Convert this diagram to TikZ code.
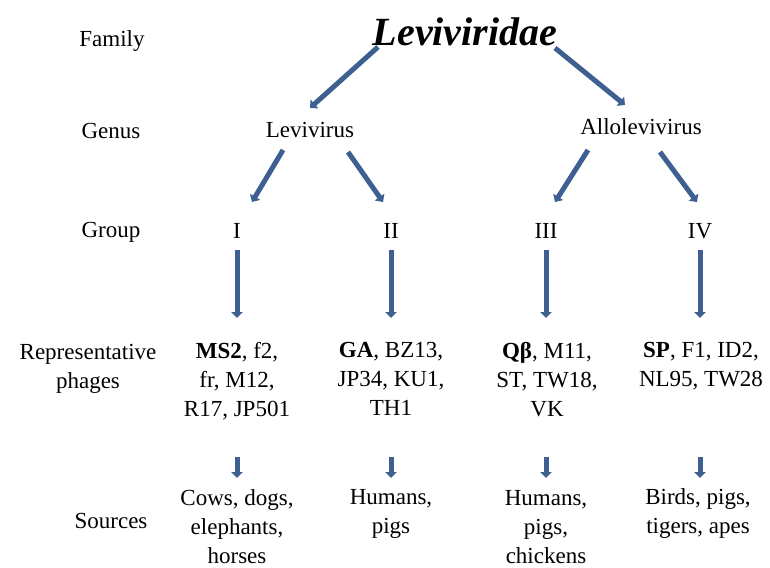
\documentclass[tikz,border=0pt]{standalone}
\usepackage{fontspec}
\setmainfont{Liberation Serif}
\usetikzlibrary{arrows.meta, positioning}
\definecolor{phageblue}{RGB}{61,96,145}

\begin{document}
\begin{tikzpicture}[
    x=1pt, y=-1pt,
    txt/.style={inner sep=0pt, align=center, font=\fontsize{23}{29}\selectfont},
    col/.style={txt, anchor=north},
    taxon/.style={inner sep=0pt, font=\fontsize{40}{42}\selectfont\bfseries\itshape},
    arrow/.style={-{Triangle[length=6pt, width=11.5pt]}, line width=5pt, phageblue}
]
\useasboundingbox (0,0) rectangle (770,567);

% Row labels
\node[txt] (lfamily) at (112,41) {Family};
\node[txt] (lgenus) at (111,131) {Genus};
\node[txt] (lgroup) at (111,232) {Group};
\node[txt] (lphages) at (88,369) {Representative\\phages};
\node[txt] (lsources) at (111,521) {Sources};

% Family and genera
\node[taxon] (fam) at (465,32) {Leviviridae};
\node[txt] (levi) at (310,130) {Levivirus};
\node[txt] (allo) at (641,127) {Allolevivirus};

% Groups
\node[txt] (g1) at (237,231) {I};
\node[txt] (g2) at (391,231) {II};
\node[txt] (g3) at (546,231) {III};
\node[txt] (g4) at (700,231) {IV};

% Representative phages
\node[col] (ph1) at (237,342) {\textbf{MS2}, f2,\\fr, M12,\\R17, JP501};
\node[col] (ph2) at (391,342) {\textbf{GA}, BZ13,\\JP34, KU1,\\TH1};
\node[col] (ph3) at (547,342) {\textbf{Qβ}, M11,\\ST, TW18,\\VK};
\node[col] (ph4) at (701,342) {\textbf{SP}, F1, ID2,\\NL95, TW28};

% Sources
\node[col] (src1) at (237,489) {Cows, dogs,\\elephants,\\horses};
\node[col] (src2) at (391,489) {Humans,\\pigs};
\node[col] (src3) at (546,490) {Humans,\\pigs,\\chickens};
\node[col] (src4) at (698,488) {Birds, pigs,\\tigers, apes};

% Arrows - family to genus
\draw[arrow] ([shift={(-87,15)}]fam.center) -- ([shift={(0,-22)}]levi.center);
\draw[arrow] ([shift={(90,16)}]fam.center) -- ([shift={(-16,-22)}]allo.center);

% Arrows - genus to group
\draw[arrow] ([shift={(-27,20)}]levi.center) -- ([shift={(15,-29)}]g1.center);
\draw[arrow] ([shift={(38,22)}]levi.center) -- ([shift={(-8,-29)}]g2.center);
\draw[arrow] ([shift={(-53,23)}]allo.center) -- ([shift={(9,-29)}]g3.center);
\draw[arrow] ([shift={(19,25)}]allo.center) -- ([shift={(-3,-29)}]g4.center);

% Arrows - group to phages
\draw[arrow] ([yshift=-19pt]g1.center) -- ([yshift=24pt]g1 |- ph1.north);
\draw[arrow] ([yshift=-19pt]g2.center) -- ([yshift=24pt]g2 |- ph2.north);
\draw[arrow] ([yshift=-19pt]g3.center) -- ([yshift=24pt]g3 |- ph3.north);
\draw[arrow] ([yshift=-19pt]g4.center) -- ([yshift=24pt]g4 |- ph4.north);

% Arrows - phages to sources
\draw[arrow] ([yshift=32pt]g1 |- src1.north) -- ([yshift=11pt]g1 |- src1.north);
\draw[arrow] ([yshift=32pt]g2 |- src2.north) -- ([yshift=11pt]g2 |- src2.north);
\draw[arrow] ([yshift=33pt]g3 |- src3.north) -- ([yshift=12pt]g3 |- src3.north);
\draw[arrow] ([yshift=31pt]g4 |- src4.north) -- ([yshift=10pt]g4 |- src4.north);

\end{tikzpicture}
\end{document}
